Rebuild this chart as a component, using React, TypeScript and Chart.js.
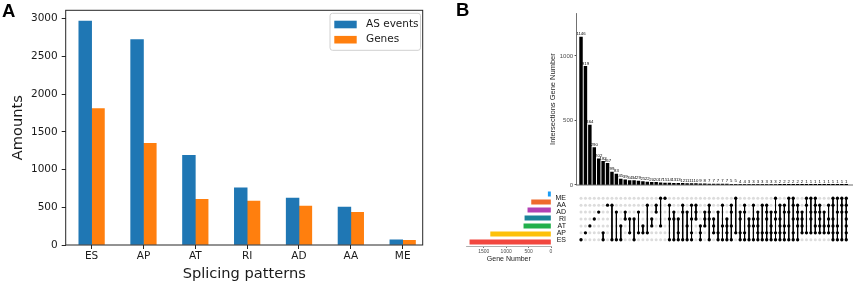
import React, { useEffect, useRef } from "react";
import { Chart, registerables } from "chart.js";
Chart.register(...registerables);

// ---------- Panel A data ----------
const patterns = ["ES", "AP", "AT", "RI", "AD", "AA", "ME"];
const asEvents = [2968, 2722, 1187, 758, 622, 503, 68];
const genes = [1809, 1346, 605, 582, 516, 433, 62];
const amountTicks = [0, 500, 1000, 1500, 2000, 2500, 3000];

// ---------- Panel B data ----------
const setNames = ["ME", "AA", "AD", "RI", "AT", "AP", "ES"];
const setSizes = [62, 433, 516, 582, 605, 1346, 1809];
const setColors = ["#1a9cf5", "#ee6a2c", "#b341b4", "#1b8499", "#22b04c", "#fdc10a", "#f2473f"];
const geneNumberTicks = [0, 500, 1000, 1500];
const intersectionTicks = [0, 500, 1000];
const intersectionSizes = [
  1146, 919, 464, 290, 202, 183, 167, 99, 83, 45,
  39, 34, 34, 29, 25, 22, 20, 20, 17, 15,
  14, 13, 13, 12, 11, 11, 10, 9, 8, 7,
  7, 7, 7, 7, 5, 5, 4, 4, 3, 3,
  3, 3, 3, 3, 3, 2, 2, 2, 2, 2,
  2, 1, 1, 1, 1, 1, 1, 1, 1, 1, 1,
];
const intersectionSets = [
  "ES", "AP", "AT", "RI", "AD", "AP,ES", "AA", "AA,ES", "AD,ES", "AT,ES",
  "AD,RI", "RI,AP", "RI,ES", "AD,AP", "AT,AP", "AA,AP", "RI,AT", "AA,AD", "ME,AT", "ME",
  "AA,RI,ES", "AD,RI,ES", "RI,AP,ES", "AA,AD,ES", "AD,AT,ES", "AA,RI,AP,ES", "AA,AD,RI", "AT,AP,ES", "AD,RI,AT", "AA,AD,RI,ES",
  "RI,AT,AP", "AD,AP,ES", "AA,AT,ES", "RI,AT,AP,ES", "AA,AD,AT,ES", "ME,AP", "AD,RI,AP,ES", "AA,AD,AP,ES", "RI,AT,ES", "AA,RI,AT,ES",
  "AD,RI,AT,AP,ES", "AA,AP,ES", "AA,AD,RI,AP,ES", "AD,AT,AP,ES", "ME,AD,RI,AP,ES", "AA,RI,AT,AP,ES", "AA,AD,AT,AP,ES", "ME,AD,AT,ES", "ME,AA,RI,AP,ES", "AA,AD,RI,AT,ES",
  "AD,RI,AT,AP", "ME,AA,AP", "ME,AD,RI,AP", "ME,AA,AD,AT,AP", "AA,AD,RI,AT,AP", "AD,AT,AP", "AA,RI,AT,AP", "ME,AA,RI,AT,AP,ES", "ME,AD,AT,AP,ES", "ME,AA,AD,ES",
  "ME,AA,AD,RI,AT,AP,ES",
];

const DJ = "DejaVu Sans";
const LS = "Liberation Sans, Arial, sans-serif";
const plain = (v: any) => String(v);

const framePlugin = {
  id: "frame",
  afterDraw(chart: any) {
    const { ctx, chartArea: a } = chart;
    ctx.save();
    ctx.strokeStyle = "#262626";
    ctx.lineWidth = 1;
    ctx.strokeRect(a.left, a.top, a.right - a.left, a.bottom - a.top);
    ctx.restore();
  },
};

const legendPlugin = {
  id: "boxLegend",
  afterDraw(chart: any) {
    const ctx = chart.ctx;
    ctx.save();
    const x = 330, y = 13.3, w = 90.5, h = 37, r = 2.5;
    ctx.beginPath();
    ctx.moveTo(x + r, y);
    ctx.arcTo(x + w, y, x + w, y + h, r);
    ctx.arcTo(x + w, y + h, x, y + h, r);
    ctx.arcTo(x, y + h, x, y, r);
    ctx.arcTo(x, y, x + w, y, r);
    ctx.closePath();
    ctx.fillStyle = "rgba(255,255,255,0.85)";
    ctx.fill();
    ctx.strokeStyle = "#d0d0d0";
    ctx.lineWidth = 1;
    ctx.stroke();
    chart.data.datasets.forEach((ds: any, i: number) => {
      const cy = 24.5 + i * 15.2;
      ctx.fillStyle = ds.backgroundColor;
      ctx.fillRect(334.3, cy - 3.8, 22.4, 7.6);
      ctx.fillStyle = "#1a1a1a";
      ctx.font = `10.5px "${DJ}"`;
      ctx.textBaseline = "middle";
      ctx.textAlign = "left";
      ctx.fillText(ds.label, 366, cy);
    });
    ctx.restore();
  },
};

const barLabelPlugin = {
  id: "barLabels",
  afterDatasetsDraw(chart: any) {
    const ctx = chart.ctx;
    const meta = chart.getDatasetMeta(0);
    ctx.save();
    ctx.fillStyle = "#000";
    ctx.font = `4.3px ${LS}`;
    ctx.textAlign = "center";
    ctx.textBaseline = "bottom";
    meta.data.forEach((el: any, i: number) => {
      ctx.fillText(String(intersectionSizes[i]), el.x, el.y - 0.8);
    });
    ctx.restore();
  },
};

export default function App() {
  const aRef = useRef<HTMLCanvasElement>(null);
  const topRef = useRef<HTMLCanvasElement>(null);
  const matRef = useRef<HTMLCanvasElement>(null);
  const setRef = useRef<HTMLCanvasElement>(null);

  useEffect(() => {
    document.body.style.margin = "0";
    const charts: Chart[] = [];

    // Panel A
    charts.push(
      new Chart(aRef.current!, {
        type: "bar",
        data: {
          datasets: [
            { label: "AS events", data: asEvents.map((v, i) => ({ x: i, y: v })), backgroundColor: "#1f77b4", barThickness: 12.8 } as any,
            { label: "Genes", data: genes.map((v, i) => ({ x: i, y: v })), backgroundColor: "#ff7f0e", barThickness: 12.8 } as any,
          ],
        },
        options: {
          animation: false,
          responsive: false,
          devicePixelRatio: 1,
          layout: { padding: { left: 0, top: 10, right: 17.3, bottom: 0 } },
          plugins: { legend: { display: false }, tooltip: { enabled: false } },
          scales: {
            x: {
              type: "linear",
              min: -0.5,
              max: 6.386,
              offset: false,
              afterBuildTicks: (s: any) => { s.ticks = patterns.map((_, i) => ({ value: i })); },
              afterFit: (s: any) => { s.height = 39; },
              ticks: {
                callback: (_v: any, i: number) => patterns[i],
                font: { family: DJ, size: 10.5 },
                color: "#1a1a1a",
                padding: 1,
                maxRotation: 0,
                autoSkip: false,
              },
              grid: { drawOnChartArea: false, offset: false, tickLength: 4, color: "#262626" },
              border: { display: false },
              title: { display: true, text: "Splicing patterns", font: { family: DJ, size: 14.6 }, color: "#1a1a1a", padding: { top: 0, bottom: 1.2 } },
            } as any,
            y: {
              min: 0,
              max: 3110,
              afterBuildTicks: (s: any) => { s.ticks = amountTicks.map((v) => ({ value: v })); },
              afterFit: (s: any) => { s.width = 65.7; },
              ticks: { callback: plain, font: { family: DJ, size: 10.5 }, color: "#1a1a1a", padding: 4 },
              grid: { drawOnChartArea: false, tickLength: 4, color: "#262626" },
              border: { display: false },
              title: { display: true, text: "Amounts", font: { family: DJ, size: 14.6 }, color: "#1a1a1a", padding: { top: 9, bottom: 0 } },
            } as any,
          },
        },
        plugins: [framePlugin, legendPlugin],
      })
    );

    // Panel B: intersection bars
    charts.push(
      new Chart(topRef.current!, {
        type: "bar",
        data: {
          datasets: [
            { data: intersectionSizes.map((v, i) => ({ x: i, y: v })), backgroundColor: "#000", barThickness: 2.8 } as any,
          ],
        },
        options: {
          animation: false,
          responsive: false,
          devicePixelRatio: 1,
          layout: { padding: { left: 0, top: 13.3, right: 6, bottom: 0 } },
          plugins: { legend: { display: false }, tooltip: { enabled: false } },
          scales: {
            x: {
              type: "linear",
              min: -1,
              max: 61.3,
              offset: false,
              grid: { display: false, offset: false },
              ticks: { display: false },
              border: { display: true, color: "#b5b5b5", width: 2 },
              afterFit: (s: any) => { s.height = 1.7; },
            } as any,
            y: {
              min: 0,
              max: 1330,
              afterBuildTicks: (s: any) => { s.ticks = intersectionTicks.map((v) => ({ value: v })); },
              afterFit: (s: any) => { s.width = 36.6; },
              ticks: { callback: plain, font: { family: LS, size: 6 }, color: "#4d4d4d", padding: 1.5 },
              grid: { drawOnChartArea: false, tickLength: 2, color: "#4d4d4d" },
              border: { color: "#4d4d4d", width: 0.8 },
              title: { display: true, text: "Intersections Gene Number", font: { family: LS, size: 7.5 }, color: "#262626", padding: { top: 8.5, bottom: 0 } },
            } as any,
          },
        },
        plugins: [barLabelPlugin],
      })
    );

    // Panel B: matrix
    const gridPts: any[] = [];
    const memberPts: any[] = [];
    const linePts: any[] = [];
    intersectionSets.forEach((s, i) => {
      setNames.forEach((_, r) => gridPts.push({ x: i, y: r }));
      const rows = s.split(",").map((n) => setNames.indexOf(n));
      rows.forEach((r) => memberPts.push({ x: i, y: r }));
      if (rows.length > 1) {
        linePts.push({ x: i, y: Math.min(...rows) }, { x: i, y: Math.max(...rows) }, { x: i, y: null });
      }
    });
    charts.push(
      new Chart(matRef.current!, {
        type: "scatter",
        data: {
          datasets: [
            { data: memberPts, pointRadius: 1.65, pointBackgroundColor: "#000", pointBorderWidth: 0, showLine: false } as any,
            { type: "line", data: linePts, borderColor: "#000", borderWidth: 1, pointRadius: 0, spanGaps: false, showLine: true, fill: false } as any,
            { data: gridPts, pointRadius: 1.5, pointBackgroundColor: "#dcdcdc", pointBorderWidth: 0, showLine: false } as any,
          ],
        },
        options: {
          animation: false,
          responsive: false,
          devicePixelRatio: 1,
          layout: { padding: { left: 0, top: 2, right: 6, bottom: 4 } },
          plugins: { legend: { display: false }, tooltip: { enabled: false } },
          scales: {
            x: { type: "linear", min: -1, max: 61.3, display: false },
            y: {
              type: "linear",
              min: -0.5,
              max: 6.5,
              reverse: true,
              afterBuildTicks: (s: any) => { s.ticks = setNames.map((_, i) => ({ value: i })); },
              afterFit: (s: any) => { s.width = 36.6; },
              ticks: { callback: (_v: any, i: number) => setNames[i], font: { family: LS, size: 7 }, color: "#111", padding: 2.6, autoSkip: false },
              grid: { display: false },
              border: { display: false },
            } as any,
          },
        },
      })
    );

    // Panel B: set sizes
    charts.push(
      new Chart(setRef.current!, {
        type: "bar",
        data: {
          labels: setNames,
          datasets: [{ data: setSizes, backgroundColor: setColors, barThickness: 4.4 } as any],
        },
        options: {
          indexAxis: "y",
          animation: false,
          responsive: false,
          devicePixelRatio: 1,
          layout: { padding: { left: 26.7, top: 2, right: 9, bottom: 0 } },
          plugins: { legend: { display: false }, tooltip: { enabled: false } },
          scales: {
            y: { display: false },
            x: {
              min: 0,
              max: 1880,
              reverse: true,
              afterBuildTicks: (s: any) => { s.ticks = geneNumberTicks.map((v) => ({ value: v })); },
              afterFit: (s: any) => { s.height = 24; },
              ticks: { callback: plain, font: { family: LS, size: 5 }, color: "#4d4d4d", padding: 1, maxRotation: 0 },
              grid: { drawOnChartArea: false, tickLength: 2, color: "#777" },
              border: { color: "#9a9a9a", width: 0.8 },
              title: { display: true, text: "Gene Number", font: { family: LS, size: 7 }, color: "#222", padding: { top: 0, bottom: 6.5 } },
            } as any,
          },
        },
      })
    );

    return () => charts.forEach((c) => c.destroy());
  }, []);

  const abs = (left: number, top: number): React.CSSProperties => ({ position: "absolute", left, top });
  const label: React.CSSProperties = { position: "absolute", font: `bold 18.5px ${LS}`, lineHeight: "18.5px", color: "#000" };

  return (
    <div style={{ position: "relative", width: 858, height: 284, background: "#fff", overflow: "hidden" }}>
      <canvas ref={aRef} width={440} height={284} style={abs(0, 0)} />
      <canvas ref={setRef} width={120} height={82} style={abs(440, 188)} />
      <canvas ref={topRef} width={318} height={190} style={abs(540, 0)} />
      <canvas ref={matRef} width={318} height={62} style={abs(540, 188)} />
      <div style={{ ...label, left: 2, top: 2 }}>A</div>
      <div style={{ ...label, left: 456, top: 1 }}>B</div>
    </div>
  );
}
